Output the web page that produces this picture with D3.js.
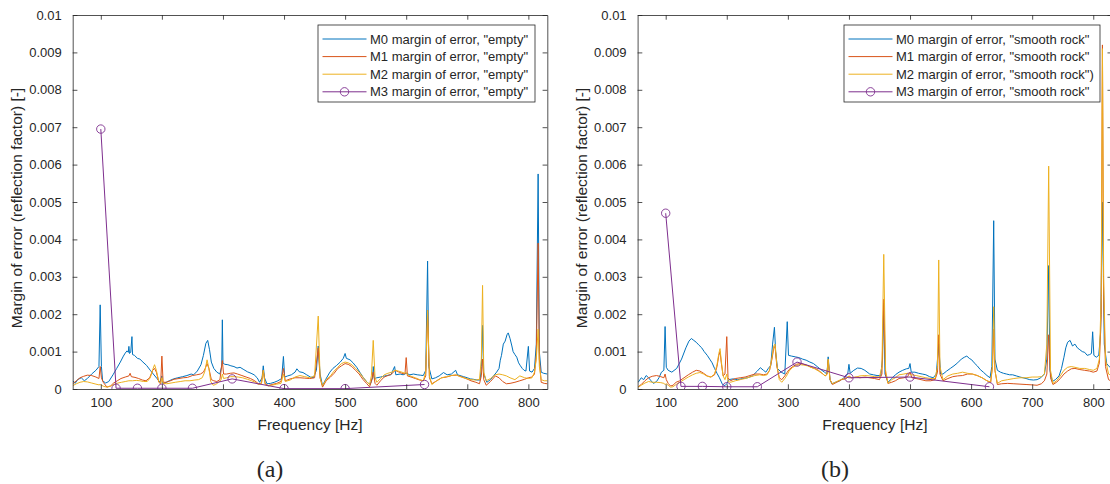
<!DOCTYPE html>
<html>
<head>
<meta charset="utf-8">
<script src="https://cdn.jsdelivr.net/npm/d3@7"></script>
<style>
body{margin:0;background:#fff;}
text{font-family:"Liberation Sans",Arial,sans-serif;fill:#262626;}
</style>
</head>
<body>
<div id="chart"></div>
<script>
// all margins of error are in units of 1e-3 [-]; pairs are [frequency Hz, value]
var emptyM0 = [[54,0.22],[58,0.15],[62,0.25],[68,0.30],[73,0.22],[78,0.28],[85,0.40],[92,0.50],[97,0.60],[99,2.25],[101,0.60],[103,0.22],[108,0.16],[113,0.20],[120,0.38],[126,0.55],[132,0.72],[137,0.88],[140,0.96],[143,1.02],[145,0.98],[146,1.14],[147,0.95],[149,0.98],[151,1.40],[152,0.92],[155,0.90],[160,0.82],[164,0.80],[169,0.72],[175,0.63],[181,0.50],[186,0.40],[192,0.28],[197,0.18],[200,0.35],[201,0.15],[205,0.16],[212,0.22],[219,0.27],[226,0.30],[234,0.33],[241,0.36],[248,0.40],[252,0.38],[258,0.48],[264,0.65],[268,0.90],[272,1.22],[275,1.30],[278,1.05],[281,0.72],[285,0.55],[290,0.45],[295,0.40],[298,0.62],[299,1.85],[300,0.70],[303,0.66],[308,0.65],[313,0.62],[318,0.60],[323,0.56],[328,0.58],[333,0.53],[340,0.46],[346,0.42],[351,0.38],[356,0.30],[360,0.18],[364,0.30],[366,0.62],[368,0.30],[372,0.14],[378,0.15],[384,0.18],[390,0.22],[396,0.28],[399,0.87],[401,0.32],[406,0.35],[412,0.38],[418,0.45],[421,0.54],[425,0.46],[431,0.44],[437,0.38],[443,0.32],[448,0.30],[453,0.50],[456,1.15],[459,0.40],[463,0.09],[468,0.25],[475,0.45],[480,0.55],[486,0.63],[492,0.72],[497,0.82],[500,0.95],[502,0.82],[508,0.78],[513,0.70],[519,0.58],[524,0.45],[530,0.30],[536,0.18],[541,0.12],[545,0.30],[546,0.60],[548,0.28],[552,0.30],[558,0.32],[563,0.34],[568,0.36],[575,0.38],[581,0.60],[583,0.38],[590,0.40],[595,0.38],[600,0.42],[606,0.38],[612,0.40],[618,0.38],[623,0.37],[628,0.36],[632,0.50],[635,3.42],[637,0.60],[642,0.27],[648,0.30],[654,0.35],[661,0.44],[667,0.38],[674,0.40],[681,0.50],[684,0.38],[690,0.35],[694,0.33],[700,0.30],[705,0.27],[710,0.26],[716,0.24],[721,0.24],[723,0.60],[725,1.70],[727,0.40],[732,0.18],[738,0.25],[743,0.35],[748,0.45],[752,0.55],[754,0.77],[756,0.90],[759,1.20],[762,1.28],[765,1.45],[767,1.50],[770,1.35],[773,1.15],[775,1.00],[778,0.92],[781,0.85],[784,0.70],[787,0.62],[790,0.55],[793,0.50],[796,0.48],[800,1.14],[802,0.48],[806,0.45],[810,0.55],[813,1.20],[816,5.75],[818,1.00],[821,0.45],[825,0.42],[831,0.40]];
var emptyM1 = [[54,0.14],[60,0.22],[66,0.30],[72,0.34],[78,0.37],[85,0.36],[92,0.32],[97,0.28],[99,0.60],[101,0.30],[104,0.18],[110,0.05],[116,0.08],[121,0.16],[127,0.22],[133,0.28],[140,0.32],[146,0.35],[148,0.42],[150,0.33],[156,0.31],[162,0.28],[168,0.24],[174,0.22],[180,0.30],[185,0.50],[188,0.55],[191,0.45],[195,0.18],[198,0.14],[200,0.88],[202,0.18],[207,0.18],[214,0.22],[220,0.26],[228,0.28],[235,0.30],[242,0.31],[250,0.36],[257,0.38],[263,0.40],[268,0.45],[271,0.55],[274,0.68],[277,0.55],[281,0.25],[285,0.22],[290,0.20],[295,0.25],[299,0.76],[301,0.40],[306,0.40],[312,0.42],[318,0.43],[324,0.40],[331,0.36],[338,0.32],[345,0.28],[352,0.22],[358,0.14],[363,0.16],[366,0.50],[369,0.15],[374,0.09],[380,0.12],[388,0.15],[395,0.20],[399,0.55],[402,0.22],[410,0.27],[418,0.30],[426,0.30],[434,0.29],[442,0.28],[450,0.30],[456,1.10],[459,0.30],[463,0.05],[469,0.22],[476,0.32],[482,0.42],[488,0.55],[494,0.62],[500,0.68],[505,0.66],[511,0.60],[517,0.50],[523,0.40],[529,0.26],[535,0.15],[540,0.06],[543,0.20],[546,0.45],[549,0.15],[552,0.10],[558,0.22],[564,0.32],[570,0.36],[576,0.40],[582,0.50],[587,0.46],[593,0.42],[598,0.40],[600,0.84],[602,0.35],[608,0.32],[615,0.28],[622,0.24],[628,0.22],[632,0.35],[635,2.10],[638,0.30],[642,0.14],[650,0.22],[658,0.30],[666,0.32],[674,0.36],[682,0.37],[690,0.33],[698,0.28],[706,0.22],[714,0.18],[720,0.14],[723,0.35],[725,0.80],[727,0.25],[731,0.10],[738,0.20],[746,0.35],[752,0.30],[758,0.20],[764,0.14],[770,0.15],[778,0.18],[786,0.22],[794,0.26],[800,0.30],[806,0.32],[810,0.40],[813,0.90],[816,3.90],[818,0.80],[821,0.18],[826,0.15],[831,0.14]];
var emptyM2 = [[54,0.09],[60,0.14],[66,0.18],[72,0.20],[78,0.19],[85,0.16],[92,0.13],[97,0.11],[99,0.12],[101,0.10],[105,0.07],[110,0.05],[116,0.08],[122,0.12],[128,0.16],[134,0.18],[140,0.20],[146,0.22],[152,0.22],[158,0.23],[164,0.22],[170,0.20],[176,0.20],[181,0.30],[185,0.52],[188,0.65],[191,0.50],[195,0.20],[198,0.15],[200,0.30],[202,0.15],[208,0.14],[215,0.16],[222,0.18],[230,0.20],[238,0.22],[246,0.22],[254,0.24],[260,0.25],[266,0.30],[270,0.45],[274,0.78],[277,0.55],[280,0.20],[284,0.10],[288,0.12],[293,0.18],[297,0.25],[299,0.40],[301,0.28],[306,0.30],[312,0.33],[318,0.33],[325,0.32],[332,0.30],[340,0.26],[347,0.22],[353,0.18],[358,0.12],[363,0.14],[366,0.50],[369,0.12],[374,0.08],[380,0.10],[388,0.13],[395,0.15],[399,0.40],[402,0.20],[410,0.24],[418,0.32],[426,0.36],[434,0.33],[442,0.30],[450,0.35],[456,1.95],[459,0.30],[463,0.09],[469,0.25],[476,0.35],[482,0.48],[488,0.58],[494,0.68],[500,0.72],[505,0.70],[511,0.65],[517,0.55],[523,0.45],[529,0.32],[535,0.20],[540,0.12],[543,0.35],[546,1.30],[549,0.30],[552,0.18],[558,0.28],[564,0.38],[570,0.42],[576,0.45],[582,0.50],[587,0.48],[593,0.45],[598,0.42],[600,0.45],[602,0.38],[608,0.34],[615,0.30],[622,0.25],[628,0.22],[632,0.45],[635,2.10],[638,0.35],[642,0.12],[650,0.22],[658,0.30],[666,0.33],[674,0.36],[682,0.38],[690,0.32],[698,0.28],[706,0.25],[714,0.24],[720,0.26],[723,0.80],[725,2.77],[727,0.45],[731,0.22],[738,0.28],[746,0.38],[752,0.40],[758,0.38],[764,0.35],[770,0.30],[778,0.25],[786,0.35],[794,0.30],[800,0.28],[806,0.30],[810,0.45],[813,0.80],[816,1.60],[818,0.60],[821,0.25],[826,0.22],[831,0.22]];

var rockM0 = [[55,0.18],[60,0.30],[64,0.25],[68,0.36],[72,0.30],[76,0.22],[80,0.15],[85,0.20],[89,0.30],[93,0.45],[97,0.50],[99,1.67],[101,0.58],[104,0.50],[110,0.45],[118,0.55],[126,0.80],[133,1.10],[138,1.28],[142,1.35],[146,1.30],[150,1.25],[154,1.18],[159,1.10],[163,1.00],[168,0.90],[172,0.80],[176,0.70],[180,0.55],[184,0.42],[188,0.30],[193,0.12],[197,0.09],[200,0.14],[203,0.25],[210,0.27],[218,0.25],[226,0.28],[234,0.30],[242,0.35],[250,0.48],[255,0.57],[260,0.50],[264,0.45],[268,0.55],[272,0.63],[275,1.20],[278,1.65],[280,1.00],[283,0.55],[289,0.45],[295,0.40],[299,1.80],[301,0.90],[306,0.88],[312,0.86],[318,0.84],[324,0.80],[330,0.77],[336,0.72],[342,0.68],[348,0.60],[354,0.52],[360,0.45],[364,0.40],[366,0.86],[369,0.25],[372,0.14],[378,0.18],[385,0.22],[392,0.30],[398,0.40],[400,0.66],[402,0.42],[408,0.50],[414,0.56],[420,0.55],[426,0.50],[434,0.40],[440,0.38],[446,0.36],[452,0.36],[455,0.80],[457,2.30],[459,0.40],[464,0.18],[470,0.28],[476,0.38],[482,0.45],[488,0.50],[494,0.54],[498,0.55],[500,0.68],[502,0.45],[508,0.45],[514,0.42],[520,0.40],[526,0.38],[532,0.33],[538,0.30],[543,0.40],[547,1.20],[550,0.40],[554,0.40],[560,0.48],[566,0.55],[572,0.62],[578,0.70],[584,0.80],[589,0.85],[593,0.88],[597,0.82],[601,0.78],[605,0.70],[610,0.62],[615,0.52],[620,0.45],[626,0.36],[631,0.30],[634,0.60],[637,4.50],[639,0.80],[643,0.50],[648,0.45],[653,0.42],[658,0.40],[663,0.38],[668,0.38],[674,0.35],[680,0.32],[685,0.30],[690,0.28],[696,0.25],[702,0.24],[708,0.25],[714,0.30],[720,0.40],[724,0.80],[727,3.30],[729,0.50],[733,0.20],[738,0.25],[744,0.35],[748,0.55],[752,0.85],[755,1.10],[758,1.25],[762,1.30],[766,1.15],[770,1.20],[774,1.10],[778,1.05],[782,1.00],[786,0.98],[790,0.90],[794,0.92],[797,0.95],[799,1.53],[801,0.90],[805,0.85],[809,0.90],[812,1.50],[815,5.00],[818,1.20],[822,0.68],[826,0.60],[831,0.55]];
var rockM1 = [[55,0.06],[60,0.12],[66,0.22],[72,0.30],[78,0.34],[85,0.36],[92,0.33],[97,0.30],[99,0.40],[101,0.25],[104,0.15],[108,0.08],[112,0.10],[117,0.18],[123,0.22],[130,0.30],[137,0.38],[144,0.45],[150,0.50],[156,0.48],[162,0.42],[168,0.35],[174,0.32],[180,0.38],[184,0.60],[187,0.90],[189,1.00],[191,0.70],[194,0.35],[197,0.40],[200,1.40],[202,0.30],[206,0.22],[214,0.28],[222,0.30],[230,0.32],[238,0.36],[246,0.40],[254,0.40],[260,0.38],[266,0.40],[270,0.50],[274,0.80],[277,1.10],[279,1.14],[282,0.60],[286,0.30],[290,0.25],[295,0.35],[299,0.45],[302,0.52],[308,0.60],[314,0.66],[320,0.68],[326,0.66],[332,0.63],[338,0.58],[344,0.55],[350,0.50],[356,0.42],[361,0.35],[364,0.40],[366,0.77],[369,0.25],[373,0.12],[380,0.18],[388,0.25],[396,0.28],[400,0.35],[404,0.30],[412,0.32],[418,0.30],[426,0.32],[434,0.30],[442,0.28],[450,0.25],[454,0.40],[457,2.40],[460,0.40],[464,0.15],[470,0.18],[476,0.22],[482,0.28],[490,0.30],[496,0.33],[500,0.45],[503,0.30],[510,0.28],[518,0.25],[526,0.22],[534,0.22],[541,0.25],[545,0.45],[547,1.45],[549,0.40],[554,0.22],[562,0.28],[570,0.33],[578,0.35],[586,0.36],[594,0.40],[602,0.40],[610,0.36],[618,0.30],[626,0.22],[632,0.18],[635,0.60],[637,1.60],[639,0.50],[643,0.12],[650,0.14],[660,0.15],[670,0.14],[680,0.13],[690,0.12],[700,0.11],[708,0.10],[715,0.14],[720,0.22],[724,0.40],[727,1.45],[730,0.30],[734,0.12],[740,0.18],[746,0.28],[752,0.40],[758,0.48],[764,0.54],[770,0.55],[778,0.52],[786,0.50],[794,0.48],[800,0.45],[806,0.48],[810,0.70],[813,2.00],[815,9.20],[817,2.50],[820,0.60],[825,0.25],[831,0.20]];
var rockM2 = [[55,0.05],[60,0.10],[66,0.16],[72,0.20],[78,0.18],[85,0.18],[92,0.17],[97,0.15],[99,0.12],[101,0.14],[104,0.10],[108,0.05],[112,0.06],[117,0.12],[123,0.18],[130,0.25],[137,0.32],[144,0.38],[150,0.42],[156,0.44],[162,0.40],[168,0.34],[174,0.32],[180,0.40],[184,0.65],[187,0.95],[189,1.08],[191,0.75],[194,0.35],[197,0.25],[200,0.40],[202,0.20],[206,0.18],[214,0.22],[222,0.25],[230,0.28],[238,0.32],[246,0.36],[254,0.38],[260,0.36],[266,0.38],[270,0.50],[274,0.85],[277,1.15],[279,1.20],[282,0.65],[286,0.25],[290,0.18],[295,0.28],[299,0.38],[302,0.48],[308,0.58],[314,0.63],[320,0.65],[326,0.64],[332,0.62],[338,0.58],[344,0.54],[350,0.48],[356,0.42],[361,0.35],[364,0.38],[366,0.80],[369,0.25],[373,0.14],[380,0.20],[388,0.26],[396,0.30],[400,0.34],[404,0.30],[412,0.32],[418,0.35],[426,0.36],[434,0.35],[442,0.33],[450,0.32],[454,0.60],[457,3.60],[460,0.50],[464,0.15],[470,0.25],[476,0.30],[482,0.38],[490,0.40],[496,0.42],[500,0.40],[503,0.38],[510,0.36],[518,0.33],[526,0.30],[534,0.28],[541,0.28],[545,0.60],[547,3.45],[549,0.60],[554,0.25],[562,0.35],[570,0.40],[578,0.42],[586,0.45],[594,0.42],[602,0.40],[610,0.36],[618,0.30],[626,0.22],[632,0.18],[635,0.60],[637,2.20],[639,0.50],[643,0.15],[650,0.22],[660,0.25],[670,0.28],[680,0.30],[690,0.30],[700,0.32],[708,0.32],[715,0.33],[720,0.40],[724,1.20],[727,5.96],[730,0.50],[734,0.15],[740,0.22],[746,0.35],[752,0.50],[758,0.58],[764,0.60],[770,0.58],[778,0.55],[786,0.55],[794,0.52],[800,0.50],[806,0.55],[810,0.80],[813,2.50],[815,9.10],[817,3.00],[820,0.80],[825,0.40],[831,0.35]];

// M3 is only given in third-octave bands
var bandFreqs = [100,125,160,200,250,315,400,500,630];
var emptyM3 = [6.95,0.02,0.02,0.02,0.02,0.27,0.01,0.01,0.12];
var rockM3 = [4.70,0.07,0.07,0.06,0.06,0.72,0.30,0.32,0.06];

var xTicks = [100,200,300,400,500,600,700,800];
var yTicks = [0,1,2,3,4,5,6,7,8,9,10];
var yTickLabels = ["0","0.001","0.002","0.003","0.004","0.005","0.006","0.007","0.008","0.009","0.01"];
var legendEmpty = ['M0 margin of error, "empty"','M1 margin of error, "empty"','M2 margin of error, "empty"','M3 margin of error, "empty"'];
var legendRock = ['M0 margin of error, "smooth rock"','M1 margin of error, "smooth rock"','M2 margin of error, "smooth rock")','M3 margin of error, "smooth rock"'];
var colors = ["#0072BD","#D95319","#EDB120","#7E2F8E"];

var W = 1110, H = 484;
var svg = d3.select("#chart").append("svg").attr("width", W).attr("height", H);

var plotTop = 15, plotBottom = 389, plotW = 474.6;

function panel(id, left, series, m3, labels, caption, legX, legW) {
    var x = d3.scaleLinear().domain([54, 831]).range([left, left + plotW]);
    var y = d3.scaleLinear().domain([0, 10]).range([plotBottom, plotTop]);
    var g = svg.append("g");

    g.append("clipPath").attr("id", "clip" + id)
     .append("rect").attr("x", left).attr("y", plotTop).attr("width", plotW).attr("height", plotBottom - plotTop);

    var line = d3.line().x(function(d){ return x(d[0]); }).y(function(d){ return y(d[1]); });
    var lines = g.append("g").attr("clip-path", "url(#clip" + id + ")");
    series.forEach(function(s, i){
        lines.append("path").datum(s)
            .attr("d", line).attr("fill", "none")
            .attr("stroke", colors[i]).attr("stroke-width", 1)
            .attr("stroke-linejoin", "round");
    });
    var m3pts = bandFreqs.map(function(f, i){ return [f, m3[i]]; });
    lines.append("path").datum(m3pts).attr("d", line).attr("fill", "none")
        .attr("stroke", colors[3]).attr("stroke-width", 1);
    lines.selectAll(".mk").data(m3pts).enter().append("circle")
        .attr("cx", function(d){ return x(d[0]); })
        .attr("cy", function(d){ return y(d[1]); })
        .attr("r", 4.2).attr("fill", "none").attr("stroke", colors[3]).attr("stroke-width", 0.9);

    // axes, MATLAB style: inward ticks and a box
    var xb = g.append("g").attr("transform", "translate(0," + plotBottom + ")")
        .call(d3.axisBottom(x).tickValues(xTicks).tickSizeInner(-4.7).tickSizeOuter(0).tickPadding(9));
    var xt = g.append("g").attr("transform", "translate(0," + plotTop + ")")
        .call(d3.axisTop(x).tickValues(xTicks).tickSizeInner(-4.7).tickSizeOuter(0).tickFormat(""));
    var yl = g.append("g").attr("transform", "translate(" + left + ",0)")
        .call(d3.axisLeft(y).tickValues(yTicks).tickSizeInner(-4.7).tickSizeOuter(0).tickPadding(11)
              .tickFormat(function(d, i){ return yTickLabels[i]; }));
    var yr = g.append("g").attr("transform", "translate(" + (left + plotW) + ",0)")
        .call(d3.axisRight(y).tickValues(yTicks).tickSizeInner(-4.7).tickSizeOuter(0).tickFormat(""));
    [xb, xt, yl, yr].forEach(function(a){
        a.select(".domain").attr("stroke", "#262626").attr("stroke-width", 0.8);
        a.selectAll(".tick line").attr("stroke", "#262626").attr("stroke-width", 0.8);
        a.selectAll(".tick text").attr("font-size", 13).attr("fill", "#262626")
         .attr("font-family", '"Liberation Sans", Arial, sans-serif');
    });

    g.append("text").attr("x", left + plotW / 2).attr("y", 430)
        .attr("text-anchor", "middle").attr("font-size", 15.5).text("Frequency [Hz]");
    g.append("text").attr("transform", "translate(" + (left - 51) + ",208) rotate(-90)")
        .attr("text-anchor", "middle").attr("font-size", 15.5).text("Margin of error (reflection factor) [-]");
    g.append("text").attr("x", left + plotW / 2 - 40).attr("y", 477)
        .attr("text-anchor", "middle").attr("font-size", 24)
        .style("font-family", '"Liberation Serif", "DejaVu Serif", serif').text(caption);

    // legend
    var leg = g.append("g").attr("transform", "translate(" + legX + ",25)");
    leg.append("rect").attr("width", legW).attr("height", 77)
        .attr("fill", "#fff").attr("stroke", "#262626").attr("stroke-width", 0.8);
    labels.forEach(function(t, i){
        var yy = 14 + i * 17.6;
        leg.append("line").attr("x1", 4.5).attr("x2", 48.5).attr("y1", yy).attr("y2", yy)
            .attr("stroke", colors[i]).attr("stroke-width", 1);
        if (i == 3) leg.append("circle").attr("cx", 26.5).attr("cy", yy).attr("r", 4.2)
            .attr("fill", "none").attr("stroke", colors[3]).attr("stroke-width", 0.9);
        leg.append("text").attr("x", 52).attr("y", yy + 4.6).attr("font-size", 13).text(t);
    });
}

panel("a", 72.7, [emptyM0, emptyM1, emptyM2], emptyM3, legendEmpty, "(a)", 318, 217);
panel("b", 637.6, [rockM0, rockM1, rockM2], rockM3, legendRock, "(b)", 844, 256);
</script>
</body>
</html>
